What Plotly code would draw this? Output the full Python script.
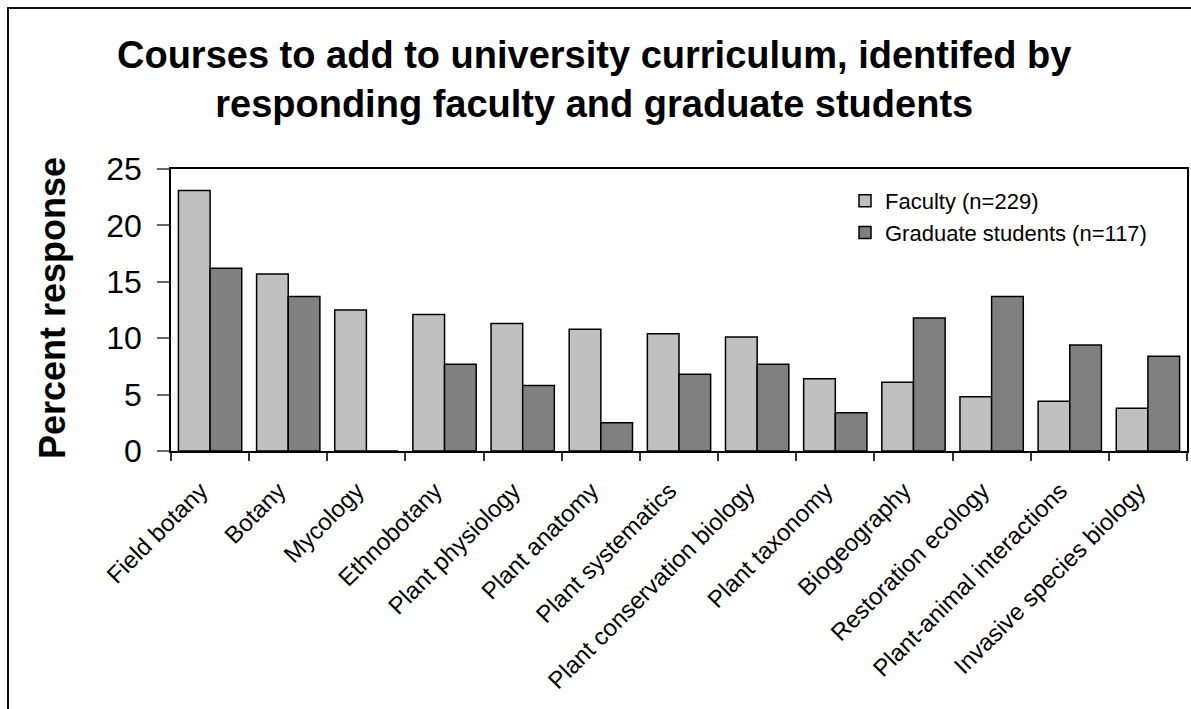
import plotly.graph_objects as go

# Survey results: courses respondents would add to the curriculum
courses = [
    "Field botany", "Botany", "Mycology", "Ethnobotany", "Plant physiology",
    "Plant anatomy", "Plant systematics", "Plant conservation biology",
    "Plant taxonomy", "Biogeography", "Restoration ecology",
    "Plant-animal interactions", "Invasive species biology",
]
faculty_pct = [23.1, 15.7, 12.5, 12.1, 11.3, 10.8, 10.4, 10.1, 6.4, 6.1, 4.8, 4.4, 3.8]
grad_pct = [16.2, 13.7, 0.0, 7.7, 5.8, 2.5, 6.8, 7.7, 3.4, 11.8, 13.7, 9.4, 8.4]
y_ticks = [0, 5, 10, 15, 20, 25]

FONT = "Arial, 'Liberation Sans', sans-serif"
W, H = 1191, 709
ML, MR, MT, MB = 171, 4, 169, 258
PW, PH = W - ML - MR, H - MT - MB

# two non-breaking spaces nudge each slanted label's end off the tick centre
tick_text = [c + "\u00a0\u00a0" for c in courses]


def px_x(x):
    return (x - ML) / PW


def px_y(y):
    return (H - MB - y) / PH


fig = go.Figure()
fig.add_trace(go.Bar(
    x=courses, y=faculty_pct, name="Faculty (n=229)",
    marker=dict(color="#C0C0C0", line=dict(color="#000000", width=1.5)),
))
fig.add_trace(go.Bar(
    x=courses, y=grad_pct, name="Graduate students (n=117)",
    marker=dict(color="#808080", line=dict(color="#000000", width=1.5)),
))

fig.update_layout(
    width=W, height=H,
    margin=dict(l=ML, r=MR, t=MT, b=MB),
    paper_bgcolor="white", plot_bgcolor="white",
    barmode="group", bargap=0.19, bargroupgap=0,
    font=dict(family=FONT, color="black"),
    showlegend=True,
    legend=dict(
        x=px_x(845), y=px_y(180), xanchor="left", yanchor="top",
        font=dict(size=22, family=FONT), bgcolor="rgba(0,0,0,0)",
        borderwidth=0, tracegroupgap=0,
    ),
    xaxis=dict(
        type="category", tickangle=-45, tickson="boundaries",
        tickvals=courses, ticktext=tick_text,
        ticks="outside", ticklen=8, tickcolor="#333", tickwidth=1.5,
        ticklabelstandoff=5,
        showline=True, linecolor="black", linewidth=1.5, mirror=True,
        showgrid=False, automargin=False,
        tickfont=dict(size=24, family=FONT, color="black"),
    ),
    yaxis=dict(
        range=[0, 25], tickvals=y_ticks, ticks="outside", ticklen=12,
        tickcolor="#666", tickwidth=1.5, ticklabelstandoff=9,
        showline=True, linecolor="black", linewidth=1.5, mirror=True,
        showgrid=False, zeroline=False, automargin=False,
        tickfont=dict(size=32, family=FONT, color="black"),
    ),
    annotations=[
        dict(
            text="<b>Courses to add to university curriculum, identifed by<br>"
                 "responding faculty and graduate students</b>",
            xref="paper", yref="paper", x=px_x(594), y=px_y(79),
            xanchor="center", yanchor="middle", showarrow=False,
            font=dict(size=38, family=FONT, color="black"),
        ),
        dict(
            text="<b>Percent response</b>",
            xref="paper", yref="paper", x=px_x(52), y=px_y(308),
            xanchor="center", yanchor="middle", textangle=-90, showarrow=False,
            font=dict(size=36, family=FONT, color="black"),
        ),
    ],
    shapes=[
        dict(
            type="rect", xref="paper", yref="paper",
            x0=px_x(8), x1=px_x(W + 6), y0=px_y(H + 6), y1=px_y(8),
            line=dict(color="#111", width=2), fillcolor="rgba(0,0,0,0)",
            layer="above",
        ),
    ],
)

fig.write_html("out.html")
